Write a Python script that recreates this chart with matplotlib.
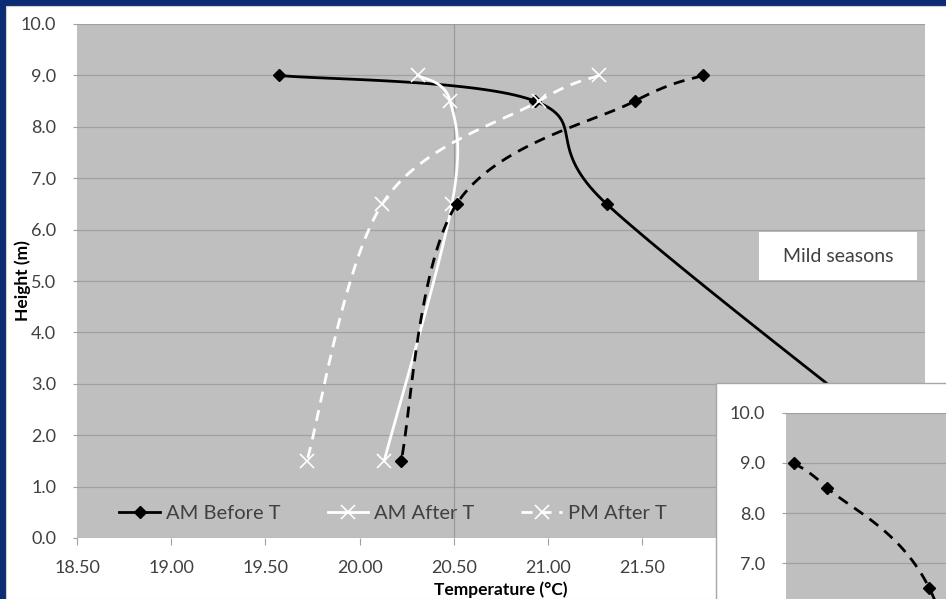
import numpy as np
import matplotlib
matplotlib.use("Agg")
from matplotlib import pyplot as plt
from matplotlib.patches import Rectangle

plt.rcParams['font.family'] = ['Lato', 'DejaVu Sans']

# data
heights = [9.0, 8.5, 6.5, 1.5]
am_before = [19.57, 20.93, 21.31, 23.0]
am_after = [20.31, 20.48, 20.49, 20.13]
pm_after = [21.27, 20.95, 20.12, 19.72]
pm_before = [21.82, 21.46, 20.515, 20.22]

# second chart pasted on top (only its top-left corner shows)
inset_heights = [9.0, 8.5, 6.5, 1.5]
inset_pm_before = [18.54, 18.72, 19.26, 19.64]

x_ticks = np.arange(18.5, 23.01, 0.5)
y_ticks = np.arange(0, 10.01, 1.0)
inset_y_ticks = np.arange(7.0, 10.01, 1.0)

TXT = '#404040'
BG = '#bfbfbf'
GRID = '#a0a0a0'
W, H = 946, 599


def fx(px):
    return px / W


def fy(py):
    return 1 - py / H


def excel_smooth(ax, xs, ys, n=40):
    # catmull-rom style bezier done in pixel space, like excel's smoothed lines
    pts = ax.transData.transform(np.column_stack([xs, ys]))
    p = np.vstack([pts[0], pts, pts[-1]])
    out = []
    t = np.linspace(0, 1, n)[:, None]
    for i in range(1, len(p) - 2):
        p0, p1, p2, p3 = p[i - 1], p[i], p[i + 1], p[i + 2]
        c1 = p1 + (p2 - p0) / 6
        c2 = p2 - (p3 - p1) / 6
        seg = ((1 - t) ** 3) * p1 + 3 * ((1 - t) ** 2) * t * c1 + 3 * (1 - t) * t ** 2 * c2 + t ** 3 * p2
        out.append(seg if i == 1 else seg[1:])
    out = np.vstack(out)
    data = ax.transData.inverted().transform(out)
    marks = [k * (n - 1) for k in range(len(xs))]
    return data[:, 0], data[:, 1], marks


def style_axes(ax):
    ax.set_facecolor(BG)
    for s in ax.spines.values():
        s.set_visible(False)
    ax.grid(axis='y', color=GRID, lw=0.9)
    ax.set_axisbelow(True)
    ax.tick_params(colors=GRID, labelcolor=TXT, labelsize=13, length=4, width=0.8)


fig = plt.figure(figsize=(W / 100, H / 100), dpi=100, facecolor='#0b2c72')
fig.patches.append(Rectangle((fx(6), 0), 1, fy(6), transform=fig.transFigure,
                             facecolor='white', edgecolor='#d0d0d0', lw=0.8, zorder=-5))

ax = fig.add_axes([fx(77), fy(538), fx(925) - fx(77), fy(24) - fy(538)])
ax.set_zorder(1)
style_axes(ax)
ax.set_xlim(18.5, 23.0)
ax.set_ylim(0, 10)
ax.set_xticks(x_ticks)
# labels from 22.00 on sit under the second chart
ax.set_xticklabels(['%.2f' % v if v < 21.9 else '' for v in x_ticks])
ax.set_yticks(y_ticks)
ax.set_yticklabels(['%.1f' % v for v in y_ticks])
ax.tick_params(axis='y', pad=12, length=3)
ax.tick_params(axis='x', pad=11, length=5)
ax.axvline(20.5, color='#9a9a9a', lw=0.9, zorder=1.5)

series = [
    ('AM Before T', am_before, dict(color='black', ls='-', marker='D', ms=6.5, mfc='black', mec='black', mew=1)),
    ('AM After T', am_after, dict(color='white', ls='-', marker='x', ms=10, mec='white', mew=1.2)),
    ('PM After T', pm_after, dict(color='white', ls=(0, (4, 2.8)), marker='x', ms=10, mec='white', mew=1.2)),
    # its legend entry is hidden under the second chart
    ('_PM Before T', pm_before, dict(color='black', ls=(0, (4, 2.8)), marker='D', ms=6.5, mfc='black', mec='black', mew=1)),
]
for name, temps, kw in series:
    sx, sy, marks = excel_smooth(ax, temps, heights)
    ax.plot(sx, sy, lw=2.0, markevery=marks, label=name, zorder=3, clip_on=True, **kw)

ax.set_xlabel('Temperature (°C)', fontsize=12.5, fontweight='bold', color='black', labelpad=4)
ax.set_ylabel('Height (m)', fontsize=12.5, fontweight='bold', color='black')
ax.yaxis.label.set_va('center')
ax.yaxis.set_label_coords(-0.064, 0.5)

leg = ax.legend(loc='center left', bbox_to_anchor=(0.05, 0.048), ncol=3, frameon=False,
                fontsize=14.5, handlelength=2.0, handletextpad=0.3, columnspacing=2.35,
                borderpad=0, borderaxespad=0)
for t in leg.get_texts():
    t.set_color(TXT)

# "Mild seasons" label box
fig.patches.append(Rectangle((fx(759), fy(280)), fx(917) - fx(759), fy(232) - fy(280),
                             transform=fig.transFigure, facecolor='white', edgecolor='none', zorder=5))
fig.text(fx(838), fy(256), 'Mild seasons', ha='center', va='center', fontsize=14, color=TXT, zorder=6)

# overlapping chart in the bottom right corner
fig.patches.append(Rectangle((fx(716), fy(1000)), 1, fy(383) - fy(1000), transform=fig.transFigure,
                             facecolor='white', edgecolor='#a6a6a6', lw=1, zorder=7))
ax2 = fig.add_axes([fx(786), fy(913), 848 / W, 500 / H])
ax2.set_zorder(8)
style_axes(ax2)
ax2.set_xlim(18.5, 23.0)
ax2.set_ylim(0, 10)
ax2.set_yticks(y_ticks)
ax2.set_yticklabels(['%.1f' % v if v in inset_y_ticks else '' for v in y_ticks])
ax2.tick_params(axis='y', pad=12, length=3)
ax2.set_xticks([])
sx, sy, marks = excel_smooth(ax2, inset_pm_before, inset_heights)
ax2.plot(sx, sy, color='black', ls=(0, (4, 2.8)), lw=2.0, marker='D', ms=6.5, mfc='black',
         mec='black', markevery=marks, zorder=3)

fig.savefig('out.png', dpi=100, facecolor=fig.get_facecolor())
